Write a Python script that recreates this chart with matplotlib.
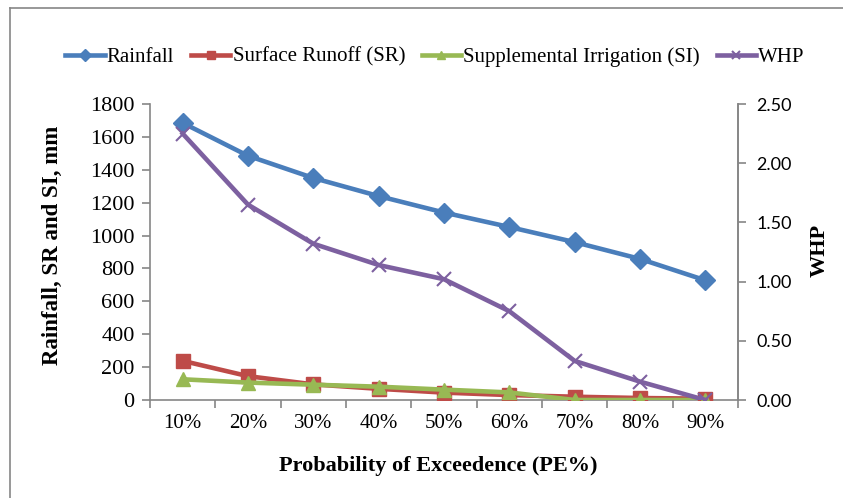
import matplotlib
matplotlib.use("Agg")
import matplotlib.pyplot as plt
from matplotlib.lines import Line2D

categories = ["10%", "20%", "30%", "40%", "50%", "60%", "70%", "80%", "90%"]
rainfall = [1685, 1485, 1350, 1240, 1140, 1052, 960, 858, 728]
runoff = [238, 145, 95, 68, 45, 30, 20, 12, 8]
irrigation = [126, 106, 93, 81, 63, 46, 0, 0, 0]
whp = [2.25, 1.65, 1.32, 1.14, 1.02, 0.75, 0.33, 0.155, 0.0]

serif = "Liberation Serif"
sans = "Lato"
gray = "#868686"

fig = plt.figure(figsize=(8.43, 4.98), dpi=100)
ax = fig.add_axes([150/843, 1-400/498, (738-150)/843, (400-104)/498])
ax2 = ax.twinx()

x = list(range(1, len(categories) + 1))
lw = 3.3
h1, = ax.plot(x, rainfall, color="#4A7EBB", lw=lw, marker="D", ms=10, label="Rainfall", zorder=3)
h2, = ax.plot(x, runoff, color="#BE4B48", lw=lw, marker="s", ms=10.5, label="Surface Runoff (SR)", zorder=3)
h3, = ax.plot(x, irrigation, color="#98B954", lw=lw, marker="^", ms=10.5, label="Supplemental Irrigation (SI)", zorder=4)
h4, = ax2.plot(x, whp, color="#7D60A0", lw=lw, marker="x", ms=10, mew=1.5, label="WHP", zorder=3)

ax.set_xlim(0.5, len(categories) + 0.5)
ax.set_ylim(0, 1800)
ax2.set_ylim(0, 2.5)
ax.set_yticks(range(0, 1801, 200))
ax2.set_yticks([0, 0.5, 1.0, 1.5, 2.0, 2.5])
ax2.set_yticklabels([f"{v:.2f}" for v in [0, 0.5, 1.0, 1.5, 2.0, 2.5]], fontfamily=sans, fontsize=13)

ax.set_xticks([i + 0.5 for i in range(0, len(categories) + 1)])
ax.set_xticklabels([])
ax.set_xticks(x, minor=True)
ax.set_xticklabels(categories, minor=True, fontfamily=serif, fontsize=15)
ax.tick_params(axis="x", which="minor", length=0, pad=10)
ax.tick_params(axis="x", which="major", length=6, color=gray, width=1.2, direction="out")
ax.tick_params(axis="y", length=6, color=gray, width=1.2, direction="out", pad=5)
ax2.tick_params(axis="y", length=6, color=gray, width=1.2, direction="out", pad=7)
for lab in ax.get_yticklabels():
    lab.set_fontfamily(serif)
    lab.set_fontsize(16)

for a in (ax, ax2):
    a.spines["top"].set_visible(False)
    for s in ("left", "right", "bottom"):
        a.spines[s].set_color(gray)
        a.spines[s].set_linewidth(1.2)
ax2.spines["left"].set_visible(False)
ax2.spines["bottom"].set_visible(False)

fig.text(52/843, 1-245/498, "Rainfall, SR and SI, mm", rotation=90, ha="center", va="center",
         fontfamily=serif, fontsize=16.5, fontweight="bold")
fig.text(820/843, 1-250/498, "WHP", rotation=90, ha="center", va="center",
         fontfamily=serif, fontsize=16, fontweight="bold")
fig.text(438/843, 1-466/498, "Probability of Exceedence (PE%)", ha="center", va="center",
         fontfamily=serif, fontsize=16, fontweight="bold")

leg = fig.legend(handles=[h1, h2, h3, h4], loc="center", bbox_to_anchor=(435/843, 1-57/498),
                 ncol=4, frameon=False, prop={"family": serif, "size": 15},
                 handlelength=1.9, handletextpad=0.1, columnspacing=0.8, markerscale=0.6)

fig.add_artist(Line2D([10/843, 10/843], [0, 1-8/498], color=gray, lw=1.2, transform=fig.transFigure))
fig.add_artist(Line2D([10/843, 1], [1-8/498, 1-8/498], color=gray, lw=1.2, transform=fig.transFigure))

fig.savefig("out.png", dpi=100)
